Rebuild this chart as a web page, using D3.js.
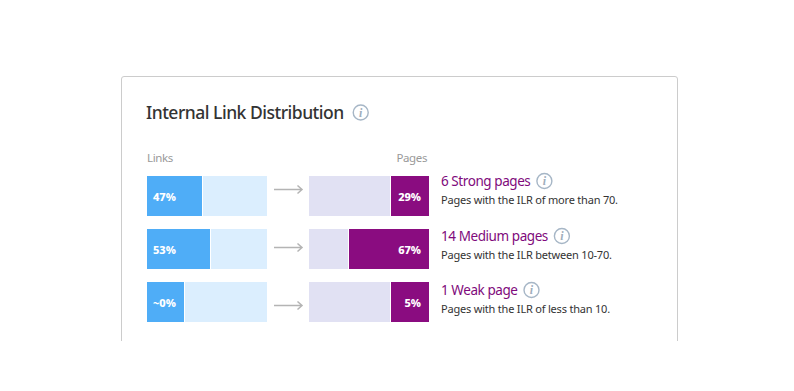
<!DOCTYPE html>
<html lang="en">
<head>
<meta charset="utf-8">
<title>Internal Link Distribution</title>
<script src="https://cdn.jsdelivr.net/npm/d3@7"></script>
<style>
html, body { margin: 0; padding: 0; background: #fff; }
svg { display: block; }
text { font-family: "Noto Sans", sans-serif; }
</style>
</head>
<body>
<script>
var w = 794, h = 391;

var chartTitle = "Internal Link Distribution";
var categories = ["6 Strong pages", "14 Medium pages", "1 Weak page"];
var descriptions = ["Pages with the ILR of more than 70.", "Pages with the ILR between 10-70.", "Pages with the ILR of less than 10."];
var linkValues = [47, 53, 0];
var linkLabels = ["47%", "53%", "~0%"];
var pageValues = [29, 67, 5];
var pageLabels = ["29%", "67%", "5%"];

var svg = d3.select("body").append("svg").attr("width", w).attr("height", h);

// card, its bottom edge is cut off in the screenshot
svg.append("path")
    .attr("d", "M121.5,341V79a2.5,2.5 0 0 1 2.5,-2.5H675a2.5,2.5 0 0 1 2.5,2.5V341")
    .attr("fill", "none")
    .attr("stroke", "#cccccc");

var yScale = d3.scaleBand().domain(d3.range(categories.length)).range([176, 176 + 53 * 3]);

var barW = 120, barH = 40;
var x1 = 147, x2 = 309;

var widthScale = d3.scaleLinear().domain([0, 100]).range([0, barW]);
// small segments keep room for their label
function linkWidth(v) { return Math.max(37, Math.round(widthScale(v)) - 1); }
function pageWidth(v) { return Math.max(38, Math.round(widthScale(v))); }

function infoIcon(cx, cy) {
    var g = svg.append("g").attr("transform", "translate(" + cx + "," + cy + ")");
    g.append("circle").attr("r", 7.5).attr("fill", "#fff").attr("stroke", "#a6b6c6").attr("stroke-width", 1.4);
    g.append("text").text("i").attr("text-anchor", "middle").attr("y", 4.2)
        .attr("font-size", "12px").attr("font-style", "italic").attr("font-weight", 700)
        .attr("fill", "#a0aebc").style("font-family", "'Liberation Serif', serif");
}

var title = svg.append("text").text(chartTitle)
    .attr("x", 146).attr("y", 119)
    .attr("font-size", "17.5px").attr("font-weight", 500).attr("fill", "#333333")
    .attr("letter-spacing", "-0.5px");
infoIcon(146 + title.node().getComputedTextLength() + 17, 112.5);

svg.append("text").text("Links").attr("x", 147).attr("y", 162)
    .attr("font-size", "11.5px").attr("fill", "#999999").attr("letter-spacing", "-0.4px");
svg.append("text").text("Pages").attr("x", 427).attr("y", 162).attr("text-anchor", "end")
    .attr("font-size", "11.5px").attr("fill", "#999999").attr("letter-spacing", "-0.4px");

var rows = svg.selectAll("g.row")
    .data(categories)
    .enter()
    .append("g")
    .attr("class", "row")
    .attr("transform", function(d, i) { return "translate(0," + yScale(i) + ")"; });

// links bars, light track then blue value
rows.append("rect").attr("x", x1).attr("width", barW).attr("height", barH).attr("fill", "#dbeefe");
rows.append("rect").attr("x", x1)
    .attr("width", function(d, i) { return linkWidth(linkValues[i]); })
    .attr("height", barH).attr("fill", "#4fadf7");
rows.append("rect")
    .attr("x", function(d, i) { return x1 + linkWidth(linkValues[i]); })
    .attr("width", 1).attr("height", barH).attr("fill", "#fff");
rows.append("text").text(function(d, i) { return linkLabels[i]; })
    .attr("x", x1 + 6).attr("y", 25)
    .attr("font-size", "11px").attr("font-weight", 800).attr("fill", "#fff");

// pages bars, value sits on the right end
rows.append("rect").attr("x", x2).attr("width", barW).attr("height", barH).attr("fill", "#e1e1f3");
rows.append("rect")
    .attr("x", function(d, i) { return x2 + barW - pageWidth(pageValues[i]); })
    .attr("width", function(d, i) { return pageWidth(pageValues[i]); })
    .attr("height", barH).attr("fill", "#8a0c80");
rows.append("rect")
    .attr("x", function(d, i) { return x2 + barW - pageWidth(pageValues[i]) - 1; })
    .attr("width", 1).attr("height", barH).attr("fill", "#fff");
rows.append("text").text(function(d, i) { return pageLabels[i]; })
    .attr("x", x2 + barW - 8).attr("y", 25).attr("text-anchor", "end")
    .attr("font-size", "11px").attr("font-weight", 800).attr("fill", "#fff");

// arrows drift lower row by row in the original
rows.append("path")
    .attr("d", function(d, i) {
        var y = 13 + 5 * i + 0.5;
        return "M274," + y + "H302M297.5," + (y - 4) + "L302," + y + "L297.5," + (y + 4);
    })
    .attr("fill", "none").attr("stroke", "#b4b4b4").attr("stroke-width", 1.5);

var titleOffset = [10, 12, 13];
var labels = rows.append("text").text(function(d) { return d; })
    .attr("x", 441).attr("y", function(d, i) { return titleOffset[i]; })
    .attr("font-size", "13.5px").attr("fill", "#800a7c").attr("letter-spacing", "-0.43px");
rows.append("text").text(function(d, i) { return descriptions[i]; })
    .attr("x", 441).attr("y", function(d, i) { return titleOffset[i] + 18; })
    .attr("font-size", "11px").attr("fill", "#333333").attr("letter-spacing", "-0.2px");

labels.each(function(d, i) {
    infoIcon(441 + this.getComputedTextLength() + 14, yScale(i) + titleOffset[i] - 5);
});
</script>
</body>
</html>
